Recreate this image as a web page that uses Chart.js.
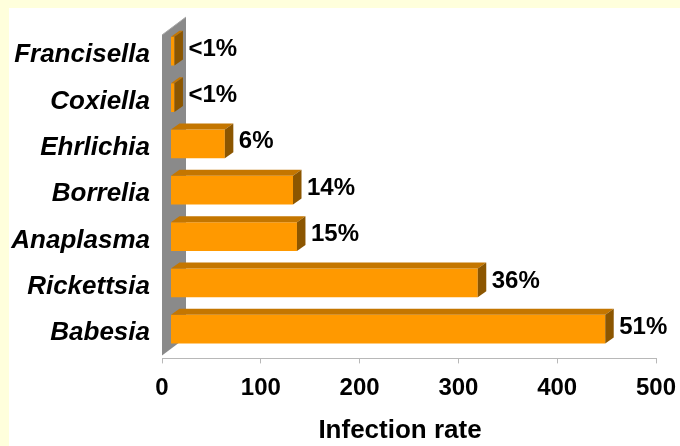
<!DOCTYPE html>
<html>
<head>
<meta charset="utf-8">
<script src="https://cdn.jsdelivr.net/npm/chart.js@4/dist/chart.umd.min.js"></script>
<style>
  html, body { margin: 0; padding: 0; background: #FFFFDC; }
  #wrap { width: 680px; height: 446px; }
</style>
</head>
<body>
<div id="wrap"><canvas id="c" width="680" height="446"></canvas></div>
<script>
// Tick-borne pathogens: number of infected samples and share of the total
const categories = ['Francisella', 'Coxiella', 'Ehrlichia', 'Borrelia', 'Anaplasma', 'Rickettsia', 'Babesia'];
const infections = [4, 4, 55, 124, 128, 311, 440];
const percentLabels = ['<1%', '<1%', '6%', '14%', '15%', '36%', '51%'];
const xTickValues = [0, 100, 200, 300, 400, 500];
const xAxisTitle = 'Infection rate';

const FONT = "'Liberation Sans', Arial, Helvetica, sans-serif";

// Depth offsets of the 3-D look (bar depth and side-wall depth)
const BAR_DX = 8.5, BAR_DY = 6;
const WALL_DX = 24, WALL_DY = 18;

const threeD = {
  id: 'threeD',
  beforeDraw(chart) {
    const { ctx, width, height } = chart;
    ctx.save();
    ctx.fillStyle = '#FFFFDC';
    ctx.fillRect(0, 0, width, height);
    ctx.fillStyle = '#FFFFFF';
    ctx.fillRect(9, 8, width - 9, height - 8);
    ctx.restore();
  },
  beforeDatasetsDraw(chart) {
    const { ctx, chartArea: a } = chart;
    const bottom = a.bottom - 3;
    ctx.save();
    ctx.fillStyle = '#8A8A8A';
    ctx.beginPath();
    ctx.moveTo(a.left, a.top + 1);
    ctx.lineTo(a.left + WALL_DX, a.top + 1 - WALL_DY);
    ctx.lineTo(a.left + WALL_DX, bottom - WALL_DY);
    ctx.lineTo(a.left, bottom);
    ctx.closePath();
    ctx.fill();
    ctx.strokeStyle = '#A8A8A8';
    ctx.lineWidth = 1;
    ctx.beginPath();
    ctx.moveTo(a.left, a.top + 1);
    ctx.lineTo(a.left + WALL_DX, a.top + 1 - WALL_DY);
    ctx.stroke();
    ctx.restore();
    // front faces are drawn pushed into the middle of the depth
    ctx.save();
    ctx.translate(BAR_DX, -BAR_DY);
  },
  afterDatasetsDraw(chart) {
    const { ctx } = chart;
    ctx.restore();
    const meta = chart.getDatasetMeta(0);
    meta.data.forEach((bar, i) => {
      const { x, y, base, height } = bar.getProps(['x', 'y', 'base', 'height'], true);
      const l = base + BAR_DX, r = x + BAR_DX;
      const t = y - height / 2 - BAR_DY, b = y + height / 2 - BAR_DY;
      ctx.save();
      // top face
      ctx.fillStyle = '#C47600';
      ctx.beginPath();
      ctx.moveTo(l, t);
      ctx.lineTo(r, t);
      ctx.lineTo(r + BAR_DX, t - BAR_DY);
      ctx.lineTo(l + BAR_DX, t - BAR_DY);
      ctx.closePath();
      ctx.fill();
      // side face
      ctx.fillStyle = '#8C5600';
      ctx.beginPath();
      ctx.moveTo(r, t);
      ctx.lineTo(r + BAR_DX, t - BAR_DY);
      ctx.lineTo(r + BAR_DX, b - BAR_DY);
      ctx.lineTo(r, b);
      ctx.closePath();
      ctx.fill();
      // value label
      ctx.fillStyle = '#000000';
      ctx.font = "bold 24px " + FONT;
      ctx.textAlign = 'left';
      ctx.textBaseline = 'middle';
      ctx.fillText(percentLabels[i], r + 14, y - BAR_DY - 2);
      ctx.restore();
    });
  },
  afterDraw(chart) {
    // axis title, centred under the visible tick labels
    const { ctx } = chart;
    ctx.save();
    ctx.fillStyle = '#000000';
    ctx.font = "bold 26px " + FONT;
    ctx.textAlign = 'center';
    ctx.textBaseline = 'middle';
    ctx.fillText(xAxisTitle, 400, 431);
    ctx.restore();
  }
};

new Chart(document.getElementById('c'), {
  type: 'bar',
  data: {
    labels: categories,
    datasets: [{
      data: infections,
      backgroundColor: '#FF9900',
      borderWidth: 0,
      barPercentage: 0.62,
      categoryPercentage: 1.0
    }]
  },
  options: {
    indexAxis: 'y',
    responsive: false,
    animation: false,
    devicePixelRatio: 1,
    layout: { padding: { top: 34, right: 24, left: 0, bottom: 0 } },
    plugins: {
      legend: { display: false },
      tooltip: { enabled: false }
    },
    scales: {
      x: {
        min: 0,
        max: 500,
        afterBuildTicks(scale) { scale.ticks = xTickValues.map(v => ({ value: v })); },
        afterFit(scale) {
          scale.height = 87.6;
          scale.paddingLeft = 0;
          scale.paddingRight = 0;
        },
        border: { display: true, color: '#B8B8B8', width: 1 },
        grid: { display: true, drawOnChartArea: false, drawTicks: true, tickLength: 5, color: '#B8B8B8' },
        ticks: {
          color: '#000000',
          padding: 11,
          font: { family: FONT, size: 24, weight: 'bold' }
        }
      },
      y: {
        afterFit(scale) {
          scale.width = 162;
          scale.paddingTop = 0;
          scale.paddingBottom = 0;
        },
        border: { display: false },
        grid: { display: false, drawTicks: false },
        ticks: {
          color: '#000000',
          padding: 12,
          labelOffset: -2,
          font: { family: FONT, size: 26, weight: 'bold', style: 'italic' }
        }
      }
    }
  },
  plugins: [threeD]
});
</script>
</body>
</html>
